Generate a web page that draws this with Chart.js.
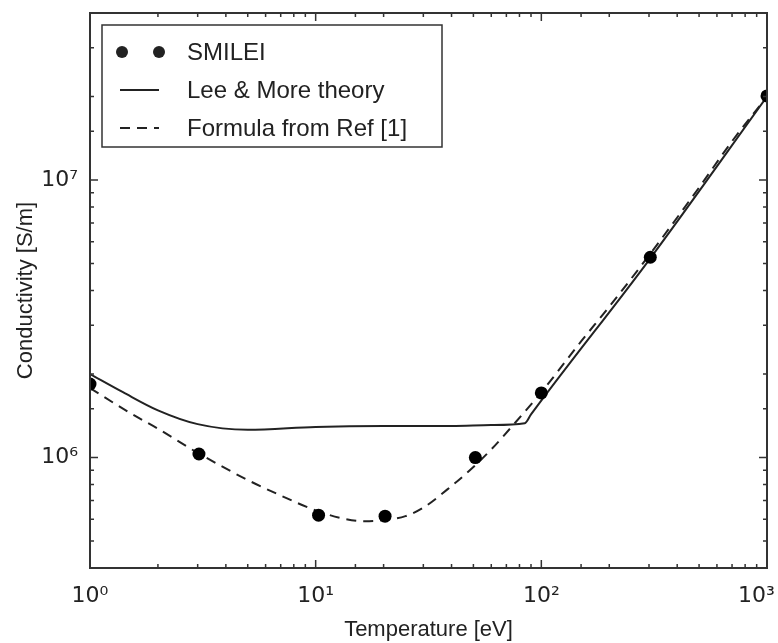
<!DOCTYPE html>
<html>
<head>
<meta charset="utf-8">
<script src="https://cdn.jsdelivr.net/npm/chart.js@4.4.1/dist/chart.umd.min.js"></script>
<style>
  html, body { margin: 0; padding: 0; background: #fff; }
  #wrap { width: 778px; height: 643px; }
</style>
</head>
<body>
<div id="wrap"><canvas id="chart"></canvas></div>
<script>
// SMILEI simulation points
const smileiT = [1, 3.04, 10.3, 20.3, 51, 100, 304, 1000];
const smileiSigma = [1.84e6, 1.03e6, 6.2e5, 6.15e5, 1.0e6, 1.71e6, 5.27e6, 2.01e7];

// Lee & More theory (solid)
const leeMoreT = [1, 1.4, 2, 3, 5, 10, 20, 40, 60, 84.5, 90, 300, 1000];
const leeMoreSigma = [2.0e6, 1.72e6, 1.48e6, 1.32e6, 1.26e6, 1.29e6, 1.30e6, 1.30e6, 1.31e6, 1.33e6, 1.43e6, 5.15e6, 2.0e7];

// Formula from Ref [1] (dashed)
const formulaT = [1, 1.5, 2, 3, 5, 7, 10, 13, 16.5, 20, 25, 30, 40, 50, 60, 75, 100, 150, 200, 300, 500, 700, 1000];
const formulaSigma = [1.78e6, 1.45e6, 1.27e6, 1.04e6, 8.3e5, 7.3e5, 6.45e5, 6.05e5, 5.9e5, 5.95e5, 6.15e5, 6.6e5, 7.9e5, 9.25e5, 1.07e6, 1.31e6, 1.72e6, 2.62e6, 3.5e6, 5.35e6, 9.4e6, 1.38e7, 2.0e7];

// decade tick labels
const xDecades = [1, 10, 100, 1000];
const xDecadeLabels = ['10⁰', '10¹', '10²', '10³'];
const yDecades = [1e6, 1e7];
const yDecadeLabels = ['10⁶', '10⁷'];

const toXY = (xs, ys) => xs.map((x, i) => ({ x: x, y: ys[i] }));
const isDecade = v => Math.abs(Math.log10(v) - Math.round(Math.log10(v))) < 1e-6;
const labelFor = (v, decades, labels) => {
  const i = decades.findIndex(d => Math.abs(Math.log10(d) - Math.log10(v)) < 1e-6);
  return i >= 0 ? labels[i] : '';
};

const ink = '#222';

// frame and inward matplotlib-style ticks on all four sides
const framePlugin = {
  id: 'frame',
  afterDraw(chart) {
    const ctx = chart.ctx, a = chart.chartArea;
    ctx.save();
    ctx.strokeStyle = '#333';
    ctx.lineWidth = 1.5;
    ['x', 'y'].forEach(id => {
      const s = chart.scales[id];
      s.ticks.forEach(t => {
        const len = isDecade(t.value) ? 8 : 4;
        const p = s.getPixelForValue(t.value);
        ctx.beginPath();
        if (id === 'x') {
          ctx.moveTo(p, a.bottom); ctx.lineTo(p, a.bottom - len);
          ctx.moveTo(p, a.top); ctx.lineTo(p, a.top + len);
        } else {
          ctx.moveTo(a.left, p); ctx.lineTo(a.left + len, p);
          ctx.moveTo(a.right, p); ctx.lineTo(a.right - len, p);
        }
        ctx.stroke();
      });
    });
    ctx.lineWidth = 2;
    ctx.strokeRect(a.left, a.top, a.right - a.left, a.bottom - a.top);
    ctx.restore();
  }
};

// legend box in the upper-left corner of the plot
const legendPlugin = {
  id: 'boxLegend',
  afterDraw(chart) {
    const ctx = chart.ctx, a = chart.chartArea;
    const x0 = a.left + 12, y0 = a.top + 12, w = 340, h = 122;
    ctx.save();
    ctx.fillStyle = '#fff';
    ctx.fillRect(x0, y0, w, h);
    ctx.strokeStyle = '#333';
    ctx.lineWidth = 1.5;
    ctx.strokeRect(x0, y0, w, h);
    ctx.font = '24px "Liberation Sans", Arial, sans-serif';
    ctx.textBaseline = 'middle';
    chart.data.datasets.forEach((ds, i) => {
      const cy = y0 + 27 + i * 38;
      ctx.fillStyle = ink;
      ctx.strokeStyle = ink;
      if (ds.showLine) {
        ctx.lineWidth = 2;
        ctx.setLineDash(ds.borderDash || []);
        ctx.beginPath();
        ctx.moveTo(x0 + 18, cy);
        ctx.lineTo(x0 + 57, cy);
        ctx.stroke();
        ctx.setLineDash([]);
      } else {
        [x0 + 20, x0 + 57].forEach(cx => {
          ctx.beginPath();
          ctx.arc(cx, cy, 6, 0, Math.PI * 2);
          ctx.fill();
        });
      }
      ctx.fillStyle = ink;
      ctx.fillText(ds.label, x0 + 85, cy + 1);
    });
    ctx.restore();
  }
};

new Chart(document.getElementById('chart').getContext('2d'), {
  type: 'scatter',
  data: {
    datasets: [
      {
        label: 'SMILEI',
        data: toXY(smileiT, smileiSigma),
        showLine: false,
        pointRadius: 6.5,
        pointBackgroundColor: '#000',
        pointBorderWidth: 0,
        order: 0
      },
      {
        label: 'Lee & More theory',
        data: toXY(leeMoreT, leeMoreSigma),
        showLine: true,
        borderColor: ink,
        borderWidth: 2,
        pointRadius: 0,
        cubicInterpolationMode: 'monotone',
        order: 2
      },
      {
        label: 'Formula from Ref [1]',
        data: toXY(formulaT, formulaSigma),
        showLine: true,
        borderColor: ink,
        borderWidth: 2,
        borderDash: [10, 7],
        pointRadius: 0,
        cubicInterpolationMode: 'monotone',
        order: 1
      }
    ]
  },
  options: {
    responsive: true,
    maintainAspectRatio: false,
    animation: false,
    layout: { padding: { left: 8, right: 11, top: 13, bottom: 0 } },
    plugins: {
      legend: { display: false },
      tooltip: { enabled: false }
    },
    scales: {
      x: {
        type: 'logarithmic',
        min: 1,
        max: 1000,
        grid: { display: false },
        border: { display: false },
        afterFit: s => { s.height = 75; s.paddingLeft = 0; s.paddingRight = 0; },
        ticks: {
          autoSkip: false,
          maxRotation: 0,
          padding: 7,
          color: ink,
          font: { family: '"DejaVu Sans", sans-serif', size: 22 },
          // last label nudged left so it stays inside the canvas
          callback: v => {
            const txt = labelFor(v, xDecades, xDecadeLabels);
            return v === 1000 ? txt + '   ' : txt;
          }
        },
        title: {
          display: true,
          text: 'Temperature [eV]',
          color: ink,
          padding: { top: 8, bottom: 0 },
          font: { family: '"Liberation Sans", Arial, sans-serif', size: 22 }
        }
      },
      y: {
        type: 'logarithmic',
        min: 4e5,
        max: 4e7,
        grid: { display: false },
        border: { display: false },
        afterFit: s => { s.width = 82; s.paddingTop = 0; s.paddingBottom = 0; },
        ticks: {
          autoSkip: false,
          padding: 4,
          color: ink,
          font: { family: '"DejaVu Sans", sans-serif', size: 22 },
          callback: v => labelFor(v, yDecades, yDecadeLabels)
        },
        title: {
          display: true,
          text: 'Conductivity [S/m]',
          color: ink,
          padding: { top: 5, bottom: 0 },
          font: { family: '"Liberation Sans", Arial, sans-serif', size: 22 }
        }
      }
    }
  },
  plugins: [framePlugin, legendPlugin]
});
</script>
</body>
</html>
